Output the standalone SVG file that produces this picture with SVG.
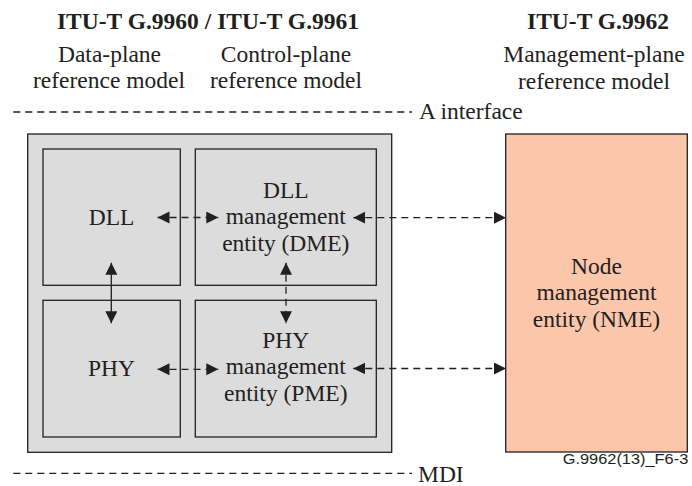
<svg xmlns="http://www.w3.org/2000/svg" width="692" height="486" viewBox="0 0 692 486">
<style>
  .t { font-family: "Liberation Serif", "Times New Roman", serif; font-size: 23.5px; fill: #231f20; text-anchor: middle; }
  .b { font-weight: bold; }
  .l { text-anchor: start; }
  .box { fill: #dcdcdc; stroke: #231f20; stroke-width: 1.3; }
  .nme { fill: #fcc6ab; stroke: #231f20; stroke-width: 1.3; }
  .ln { stroke: #231f20; stroke-width: 1.3; fill: none; }
  .d { stroke-dasharray: 7 5; }
  .ref { font-family: "Liberation Sans", Arial, sans-serif; font-size: 14px; fill: #231f20; }
</style>
<defs>
  <marker id="ah" markerUnits="userSpaceOnUse" markerWidth="13" markerHeight="13" refX="12" refY="6" orient="auto-start-reverse">
    <path d="M0,0 L12,6 L0,12 z" fill="#231f20"/>
  </marker>
</defs>
<rect width="692" height="486" fill="#ffffff"/>

<g id="header">
  <text class="t b" x="208" y="29.3">ITU-T G.9960 / ITU-T G.9961</text>
  <text class="t" x="109.5" y="61.7">Data-plane</text>
  <text class="t" x="109" y="88.3">reference model</text>
  <text class="t" x="286" y="61.7">Control-plane</text>
  <text class="t" x="286" y="88.3">reference model</text>
  <text class="t b" x="598" y="29.3">ITU-T G.9962</text>
  <text class="t" x="594" y="62">Management-plane</text>
  <text class="t" x="594" y="89">reference model</text>
</g>

<g id="a-interface">
  <line class="ln d" x1="13.3" y1="112" x2="412" y2="112"/>
  <text class="t l" x="419" y="119">A interface</text>
</g>

<g id="mdi">
  <line class="ln d" x1="13.3" y1="473.3" x2="412" y2="473.3"/>
  <text class="t l" x="418" y="481.5">MDI</text>
</g>

<g id="node-container">
  <rect class="box" x="27.7" y="134" width="364" height="318.3"/>
</g>

<g id="node-dll">
  <rect class="box" x="43" y="149" width="137.3" height="136.3"/>
  <text class="t" x="111.5" y="225">DLL</text>
</g>

<g id="node-dme">
  <rect class="box" x="195.3" y="149" width="181" height="136.3"/>
  <text class="t" x="285.8" y="197.5">DLL</text>
  <text class="t" x="285.8" y="224">management</text>
  <text class="t" x="285.8" y="250.5">entity (DME)</text>
</g>

<g id="node-phy">
  <rect class="box" x="43" y="300.3" width="137.3" height="136.7"/>
  <text class="t" x="111.5" y="375.5">PHY</text>
</g>

<g id="node-pme">
  <rect class="box" x="195.3" y="300.3" width="181" height="136.7"/>
  <text class="t" x="285.8" y="347.5">PHY</text>
  <text class="t" x="285.8" y="374">management</text>
  <text class="t" x="285.8" y="400.5">entity (PME)</text>
</g>

<g id="node-nme">
  <rect class="nme" x="505.7" y="134" width="181.6" height="318"/>
  <text class="t" x="596.5" y="273.5">Node</text>
  <text class="t" x="596.5" y="300">management</text>
  <text class="t" x="596.5" y="326.5">entity (NME)</text>
</g>

<g id="connectors">
  <line class="ln d" x1="157.5" y1="217.5" x2="218.3" y2="217.5" marker-start="url(#ah)" marker-end="url(#ah)"/>
  <line class="ln d" x1="353.3" y1="217.7" x2="506" y2="217.7" marker-start="url(#ah)" marker-end="url(#ah)"/>
  <line class="ln d" x1="157.5" y1="369.3" x2="218.3" y2="369.3" marker-start="url(#ah)" marker-end="url(#ah)"/>
  <line class="ln d" x1="353.3" y1="368.5" x2="506" y2="368.5" marker-start="url(#ah)" marker-end="url(#ah)"/>
  <line class="ln" x1="111.3" y1="262.7" x2="111.3" y2="323.3" marker-start="url(#ah)" marker-end="url(#ah)"/>
  <line class="ln d" x1="286" y1="262.7" x2="286" y2="323.3" marker-start="url(#ah)" marker-end="url(#ah)"/>
</g>

<text class="ref" x="562.7" y="464" textLength="125.6" lengthAdjust="spacingAndGlyphs">G.9962(13)_F6-3</text>
</svg>
